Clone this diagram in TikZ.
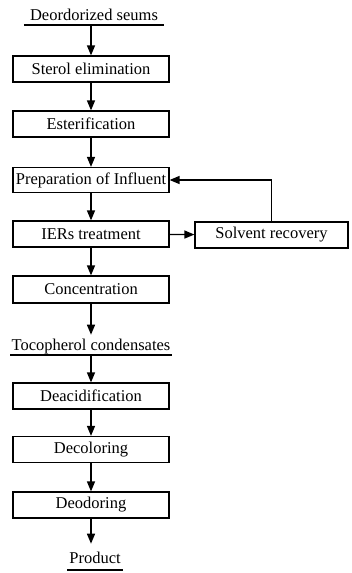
\documentclass[tikz,border=0pt]{standalone}
\usepackage{fontspec}
\setmainfont{Liberation Serif}
\usetikzlibrary{arrows, calc}

\begin{document}
\begin{tikzpicture}[x=1pt, y=-1pt, every text node part/.style={align=center},
  font=\fontsize{16.5}{18}\selectfont]

\tikzstyle{box}=[draw, line width=1.4pt, minimum width=156pt, minimum height=26pt, inner sep=0pt]
\tikzstyle{lbl}=[anchor=south, inner xsep=6pt, inner ysep=1pt, text height=11pt, text depth=3pt]
\tikzstyle{uline}=[draw, line width=1.1pt]
\tikzstyle{arr}=[draw, line width=1.3pt, -triangle 45]

\useasboundingbox (0, 0) rectangle (351, 573);

\node (feed)    [lbl] at (94, 25)    {Deordorized seums};
\node (sterol)  [box] at (91, 69)    {Sterol elimination};
\node (ester)   [box] at (91, 124)   {Esterification};
\node (prep)    [box, minimum height=25pt] at (91, 180) {Preparation of Influent};
\node (iers)    [box] at (91, 234)   {IERs treatment};
\node (solv)    [box, minimum width=153pt] at (271.5, 235) {Solvent recovery};
\node (conc)    [box, minimum height=27pt] at (91, 289.5) {Concentration};
\node (toco)    [lbl, inner xsep=1pt] at (91, 355) {Tocopherol condensates};
\node (deac)    [box] at (91, 396)   {Deacidification};
\node (decol)   [box] at (91, 449.5) {Decoloring};
\node (deodor)  [box] at (91, 505)   {Deodoring};
\node (prod)    [lbl, inner xsep=2pt, inner ysep=3pt] at (95, 570) {Product};

\path [uline] (feed.south west) -- (feed.south east);
\path [uline] (toco.south west) -- (toco.south east);
\path [uline] (prod.south west) -- (prod.south east);

\path [arr] (feed.south -| sterol) -- (sterol);
\path [arr] (sterol) -- (ester);
\path [arr] (ester)  -- (prep);
\path [arr] (prep)   -- (iers);
\path [arr] (iers)   -- (conc);
\path [arr] (iers)   -- (solv);
\path [arr] (solv.north) |- (prep.east);
\path [arr, shorten >=4pt] (conc) -- (toco.north -| conc);
\path [arr] (toco.south -| deac) -- (deac);
\path [arr] (deac)   -- (decol);
\path [arr] (decol)  -- (deodor);
\path [arr, shorten >=6pt] (deodor) -- (deodor |- prod.north);
\end{tikzpicture}
\end{document}
